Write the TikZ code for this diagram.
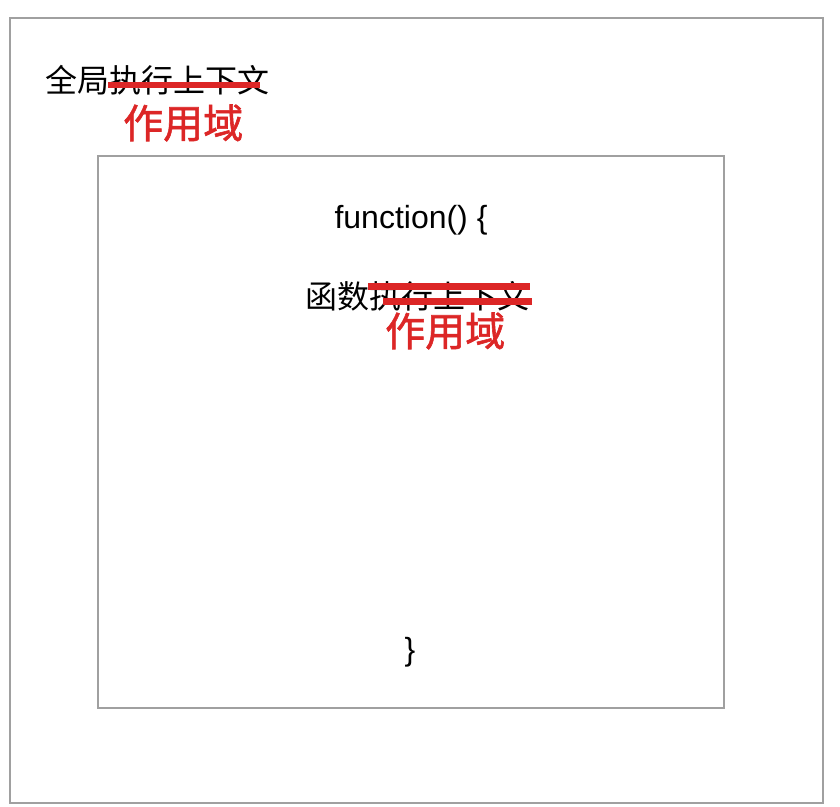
\documentclass[tikz,border=0pt]{standalone}
\usepackage{fontspec}
\setmainfont{Liberation Sans}
\newfontfamily\cjk{Noto Sans CJK SC}
\newfontfamily\cjkbold[FakeBold=1.5]{Noto Sans CJK SC}
\definecolor{boxgray}{HTML}{A0A0A0}
\definecolor{markred}{HTML}{DC2626}
\begin{document}
\begin{tikzpicture}[x=1pt,y=-1pt,
		frame/.style={draw=boxgray,line width=2pt},
		word/.style={inner sep=0pt,font=\cjk\fontsize{32}{32}\selectfont},
		fix/.style={inner sep=0pt,text=markred,font=\cjkbold\fontsize{40}{40}\selectfont},
		strike/.style={draw=markred,line width=6pt}]
		\useasboundingbox (0,0) rectangle (840,806);
		% 外层与内层
		\draw[frame] (10,18) rectangle (823,803);
		\draw[frame] (98,156) rectangle (724,708);
		% 全局
		\node[word,anchor=west] (global) at (45,80) {全局执行上下文};
		\node[fix,anchor=west] (globalfix) at (123,123) {作用域};
		\coordinate (gs1) at (108,85);
		\coordinate (ge1) at (260,85);
		\draw[strike] (gs1) -- (ge1);
		% 函数
		\node[inner sep=0pt,font=\fontsize{32}{32}\selectfont] (fhead) at (411,220) {function() \{};
		\node[word,anchor=west] (local) at (305,296) {函数执行上下文};
		\node[fix,anchor=west] (localfix) at (385,331) {作用域};
		\coordinate (ls1) at (368,286);
		\coordinate (le1) at (530,286);
		\coordinate (ls2) at (383,301);
		\coordinate (le2) at (532,301);
		\draw[strike,line width=7pt] (ls1) -- (le1);
		\draw[strike,line width=7pt] (ls2) -- (le2);
		\node[inner sep=0pt,font=\fontsize{32}{32}\selectfont] (ftail) at (410,652) {\}};
\end{tikzpicture}
\end{document}
